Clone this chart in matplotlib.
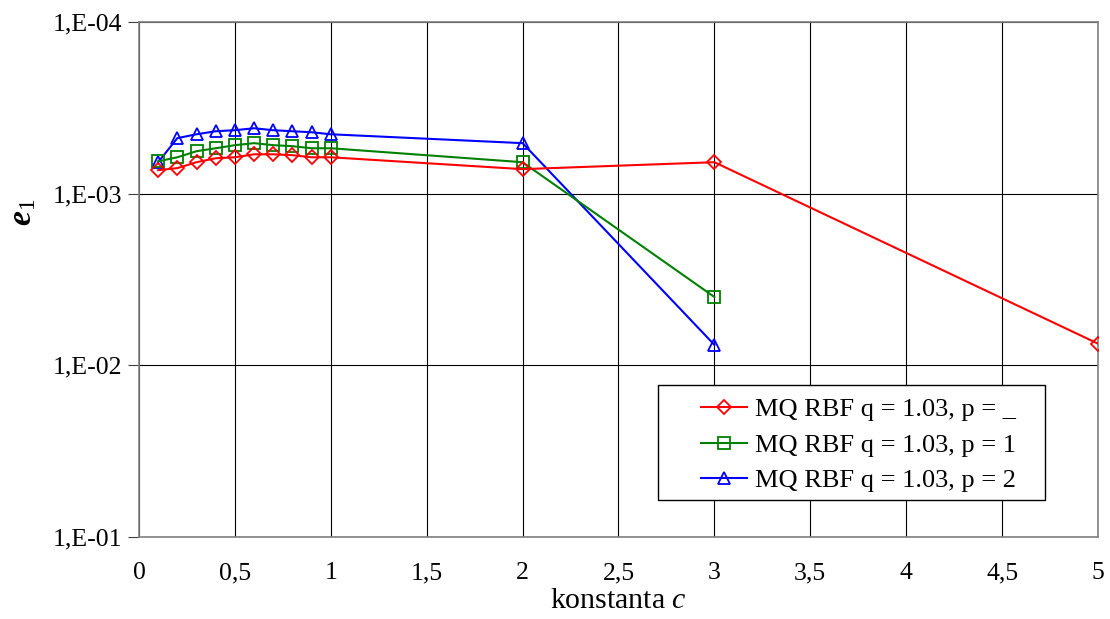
import numpy as np
import matplotlib
matplotlib.use('Agg')
import matplotlib.pyplot as plt
from matplotlib.patches import Rectangle
from matplotlib.ticker import FixedLocator, FuncFormatter, NullLocator

plt.rcParams['font.family'] = ['Liberation Serif', 'DejaVu Serif']
plt.rcParams['mathtext.fontset'] = 'custom'
plt.rcParams['mathtext.rm'] = 'Liberation Serif'
plt.rcParams['mathtext.it'] = 'Liberation Serif:italic'
plt.rcParams['mathtext.bf'] = 'Liberation Serif:bold'
plt.rcParams['mathtext.bfit'] = 'Liberation Serif:bold:italic'

# data
c_red = [0.1, 0.2, 0.3, 0.4, 0.5, 0.6, 0.7, 0.8, 0.9, 1.0, 2.0, 3.0, 5.0]
e_red = [7.3e-4, 7.1e-4, 6.56e-4, 6.22e-4, 6.14e-4, 5.9e-4, 5.9e-4,
         5.97e-4, 6.14e-4, 6.14e-4, 7.2e-4, 6.56e-4, 7.48e-3]
c_green = [0.1, 0.2, 0.3, 0.4, 0.5, 0.6, 0.7, 0.8, 0.9, 1.0, 2.0, 3.0]
e_green = [6.48e-4, 6.14e-4, 5.66e-4, 5.44e-4, 5.22e-4, 5.08e-4, 5.22e-4,
           5.29e-4, 5.44e-4, 5.44e-4, 6.56e-4, 4.0e-3]
c_blue = [0.1, 0.2, 0.3, 0.4, 0.5, 0.6, 0.7, 0.8, 0.9, 1.0, 2.0, 3.0]
e_blue = [6.56e-4, 4.75e-4, 4.51e-4, 4.33e-4, 4.27e-4, 4.16e-4, 4.27e-4,
          4.33e-4, 4.39e-4, 4.51e-4, 5.08e-4, 7.6e-3]
labels = ['MQ RBF q = 1.03, p = _', 'MQ RBF q = 1.03, p = 1', 'MQ RBF q = 1.03, p = 2']

fig = plt.figure(figsize=(11.1, 6.19), dpi=100)
ax = fig.add_axes([0.1252, 0.1325, 0.8640, 0.8320])

ax.plot(c_red, e_red, color='red', lw=1.5, marker='D', ms=7, mfc='none',
        mew=1.3, label=labels[0], zorder=5)
ax.plot(c_green, e_green, color='#008000', lw=1.5, marker='s', ms=8, mfc='none',
        mew=1.3, label=labels[1], zorder=4)
ax.plot(c_blue, e_blue, color='blue', lw=1.5, marker='^', ms=8, mfc='none',
        mew=1.3, label=labels[2], zorder=3)

ax.set_yscale('log')
ax.set_ylim(1e-1, 1e-4)
ax.set_xlim(0, 5)
ax.yaxis.set_major_locator(FixedLocator([1e-4, 1e-3, 1e-2, 1e-1]))
ax.yaxis.set_minor_locator(NullLocator())
ax.yaxis.set_major_formatter(FuncFormatter(lambda v, p: '1,E-%02d' % round(-np.log10(v))))
ax.set_xticks(np.arange(0, 5.01, 0.5))
ax.xaxis.set_major_formatter(FuncFormatter(lambda v, p: ('%g' % v).replace('.', ',')))

ax.grid(True, color='black', lw=0.8)
ax.set_axisbelow(True)
for s in ax.spines.values():
    s.set_color('#808080')
    s.set_linewidth(1.2)

ax.tick_params(axis='both', labelsize=18.5)
ax.tick_params(axis='x', length=0, pad=18)
ax.tick_params(axis='y', length=8, color='#404040', pad=4)

ax.set_xlabel(r'konstanta $\mathit{c}$', fontsize=21.5)
ax.xaxis.set_label_coords(0.5, -0.1)
ax.set_ylabel(r'$\mathbfit{e}_{\mathrm{1}}$', fontsize=24)
ax.yaxis.set_label_coords(-0.105, 0.63)

# legend box drawn separately (Excel style padding)
ax.add_patch(Rectangle((0.541, 0.072), 0.4036, 0.2233, transform=ax.transAxes,
                       facecolor='white', edgecolor='black', lw=1.0, zorder=6))
leg = ax.legend(loc='upper left', bbox_to_anchor=(0.586, 0.27), borderaxespad=0,
                borderpad=0, fontsize=19, frameon=False, handlelength=1.75,
                handletextpad=0.3, labelspacing=0.45)
leg.set_zorder(7)

fig.savefig('out.png', dpi=100)
